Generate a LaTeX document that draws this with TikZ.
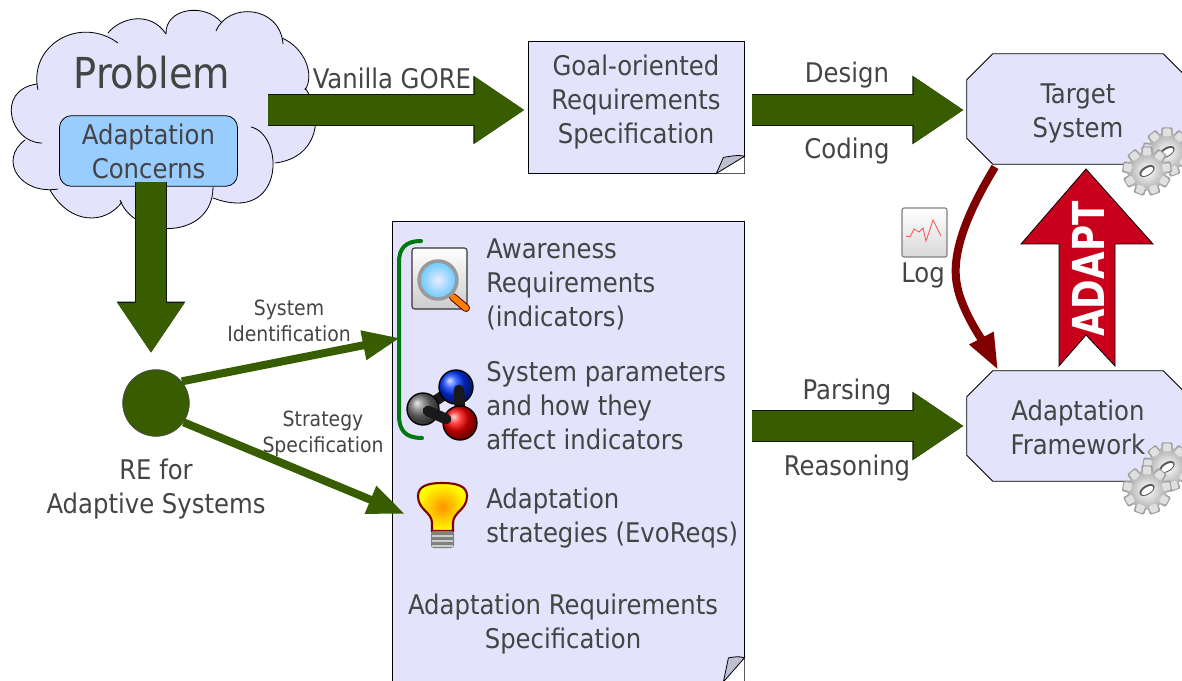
\documentclass[tikz,border=0pt]{standalone}
\usepackage{fontspec}
\setmainfont{DejaVu Sans Condensed}
\usetikzlibrary{arrows.meta, positioning, calc}
\definecolor{docfill}{HTML}{E3E3FB}
\definecolor{concernfill}{HTML}{99CCFF}
\definecolor{textgray}{HTML}{444444}
\definecolor{arrowgreen}{HTML}{385D00}
\definecolor{bracketgreen}{HTML}{007A10}
\definecolor{logred}{HTML}{800000}
\definecolor{adaptred}{HTML}{C8001C}
\definecolor{foldgray}{HTML}{BFBFD2}
\tikzset{
  label22/.style={text=textgray, font=\fontsize{20.3}{25.5}\selectfont, align=center, inner sep=0pt},
  labelleft/.style={label22, align=left, anchor=west},
  labelsmall/.style={text=textgray, font=\fontsize{15.7}{19.5}\selectfont, align=center, inner sep=0pt},
  docbox/.style={draw=black, fill=docfill, line width=0.6pt, inner sep=0pt},
  foldpart/.style={draw=black, fill=foldgray, line width=0.6pt},
  octbox/.style={minimum width=166.5pt, minimum height=82.5pt, inner sep=0pt},
  octline/.style={draw=black, fill=docfill, line width=0.6pt},
  blockarrow/.style={draw=arrowgreen, line width=22.5pt, -{Triangle[length=37.5pt,width=47.5pt]},
    preaction={draw=black!75!arrowgreen, line width=23.4pt, -{Triangle[length=38.5pt,width=48.6pt]}}},
  thinarrow/.style={draw=arrowgreen, line width=6pt, -{Triangle[length=28pt,width=21pt]}},
  cloudline/.style={draw=black, line width=0.6pt},
  gearicon/.pic={
    \foreach \a in {0,40,...,320} {
      \fill[black!38, rotate=\a, rounded corners=1pt] (-5,-22) rectangle (5,-13);
    }
    \shade[inner color=white, outer color=black!32] (0,0) circle (17.5);
    \foreach \a in {0,40,...,320} {
      \fill[black!12, rotate=\a, rounded corners=1pt] (-3.6,-21) rectangle (3.6,-14);
    }
    \fill[black!65, rotate=32] (0,0) ellipse (7.5 and 4.2);
    \fill[white, rotate=32] (0,0.5) ellipse (6 and 2.8);
  }
}
\newcommand{\cloudlobes}{
    {(38,90)}/{(28,45)}/{(80,15)}/{(118,43)},
    {(108,33)}/{(120,18)}/{(150,10)}/{(166,34)},
    {(166,34)}/{(165,8)}/{(205,2)}/{(222,23)},
    {(216,31)}/{(228,2)}/{(280,5)}/{(283,44)},
    {(282,38)}/{(305,48)}/{(315,75)}/{(305,90)},
    {(305,88)}/{(325,115)}/{(318,158)}/{(275,163)},
    {(251,127)}/{(285,135)}/{(285,225)}/{(213,198)},
    {(213,187)}/{(213,240)}/{(135,240)}/{(120,200)},
    {(122,202)}/{(105,225)}/{(70,225)}/{(50,190)},
    {(58,189)}/{(20,195)}/{(-2,160)}/{(25,140)},
    {(42,143)}/{(10,143)}/{(-5,90)}/{(37,84)}}
\newcommand{\docfold}[5]{% name, right edge offset, bottom edge offset, inner x, inner y
  \fill[white] (#1.south east) -- ++(0,-#2) -- ($(#1.south east)+(-#3,0)$) -- cycle;
  \draw[foldpart] ($(#1.south east)+(0,-#2)$) -- ($(#1.south east)+(-#3,0)$) -- ($(#1.south east)+(-#4,-#5)$) .. controls ($(#1.south east)+(-#4+6,-#5-1)$) and ($(#1.south east)+(-5,-#2-2)$) .. cycle;
}
\newcommand{\octoutline}[1]{%
  \draw[octline] ($(#1.north west)+(26,0)$) -- ($(#1.north east)+(-26,0)$) -- ($(#1.north east)+(0,26)$) -- ($(#1.south east)+(0,-26)$) -- ($(#1.south east)+(-26,0)$) -- ($(#1.south west)+(26,0)$) -- ($(#1.south west)+(0,-26)$) -- ($(#1.north west)+(0,26)$) -- cycle;
}
\begin{document}
\begin{tikzpicture}[x=0.75pt,y=-0.75pt]
\useasboundingbox (0,0) rectangle (1182,681);
% Cloud
\fill[docfill] (38,90) -- (108,33) -- (166,30) -- (222,20) -- (282,38) -- (305,90) -- (275,163) -- (213,198) -- (167,225) -- (122,204) -- (50,192) -- (25,140) -- cycle;
\foreach \pa/\pb/\pc/\pd in \cloudlobes {
  \fill[docfill, draw=docfill, line width=0.5pt] \pa .. controls \pb and \pc .. \pd;
}
\foreach \pa/\pb/\pc/\pd in \cloudlobes {
  \draw[cloudline] \pa .. controls \pb and \pc .. \pd;
}
\node[text=textgray, font=\fontsize{32}{40}\selectfont, inner sep=0pt] (problem) at (152,73) {Problem};
\node[draw=black, fill=concernfill, rounded corners=9pt, line width=0.6pt, minimum width=133.5pt, minimum height=53pt,
      label22] (concerns) at (148.5,151) {Adaptation\\Concerns};
\coordinate (vanillastart) at (268,110);
\coordinate (concernsout) at (151,182);
% Documents
\node[docbox, minimum width=162pt, minimum height=99pt] (goalspec) at (636,107) {};
\docfold{goalspec}{17}{28}{21}{16}
\node[label22] (goaltext) at (636,102.5) {Goal-oriented\\Requirements\\Specification};
\node[docbox, minimum width=264pt, minimum height=345pt] (adaptspec) at (568,451.5) {};
\docfold{adaptspec}{24}{21}{16}{24}
\node[label22] (adapttext) at (563,624.5) {Adaptation Requirements\\Specification};
% Target and framework
\node[octbox] (target) at (1078,109) {};
\octoutline{target}
\node[label22] (targettext) at (1078,113.5) {Target\\System};
\node[octbox] (framework) at (1078,426) {};
\octoutline{framework}
\node[label22] (frameworktext) at (1078,427.5) {Adaptation\\Framework};
\foreach \gx/\gy in {1167/152,1147/171,1167/467,1147/490} {
  \pic[scale=1.12] at (\gx,\gy) {gearicon};
}
% Big arrows
\draw[blockarrow] (vanillastart) -- ($(goalspec.west |- vanillastart)+(-3,0)$);
\draw[blockarrow] (752,110) -- ($(target.west |- 0,110)+(-3,0)$);
\draw[blockarrow] (752,426) -- ($(framework.west)+(-3,0)$);
\draw[blockarrow] (concernsout) -- (151,353);
\node[label22] (vanilla) at (392,78) {Vanilla GORE};
\node[label22] (design) at (847,75) {Design};
\node[label22] (coding) at (847,151) {Coding};
\node[label22] (parsing) at (847,392) {Parsing};
\node[label22] (reasoning) at (847,468) {Reasoning};
% RE node
\node[circle, draw=black!70, fill=arrowgreen, line width=0.5pt, minimum size=50pt, inner sep=0pt] (re) at (156,403) {};
\node[label22] (retext) at (156,489) {RE for\\Adaptive Systems};
\coordinate (bracketin) at (400,338);
\coordinate (bulbin) at (405,514);
\draw[thinarrow] (re.40) -- (bracketin);
\draw[thinarrow] (re.-35) -- (bulbin);
\node[labelsmall] (sysid) at (289,321) {System\\Identification};
\node[labelsmall] (stratspec) at (323,434) {Strategy\\Specification};
% Bracket
\draw[bracketgreen, line width=3pt, line cap=round] (421,241) .. controls (405,241) and (399,249) .. (399,262) -- (399,415) .. controls (399,430) and (405,438) .. (422,438);
% Magnifier icon
\draw[black!80, line width=0.8pt, rounded corners=2pt, top color=white, bottom color=black!20] (412,248) rectangle (467,309);
\draw[logred!80!black, line width=6pt, line cap=round] (453,297) -- (466,308);
\draw[orange, line width=4.4pt, line cap=round] (453,297) -- (466,308);
\shade[inner color=blue!8, outer color=blue!35!cyan!60, draw=black!40, line width=2.6pt] (438,280) circle (19);
% Molecule icon
\draw[black!90, line width=8pt] (423,409) -- (456,387);
\shade[ball color=black!55, draw=black, line width=1pt] (423,409) circle (16);
\shade[ball color=blue!80!cyan, draw=black, line width=1pt] (456,387) circle (17);
\draw[black!90, line width=8pt, line cap=round] (459,390) -- (460,412);
\shade[ball color=red, draw=black, line width=1pt] (460,423) circle (17);
\draw[black!90, line width=8pt, line cap=round] (428,411) -- (446,419);
% Bulb icon
\draw[logred, line width=1.6pt, inner color=orange!85!yellow, outer color=yellow] (432,531) -- (432,523) .. controls (432,512) and (418,510) .. (418,496) .. controls (418,486) and (428,483) .. (442,483) .. controls (457,483) and (467,486) .. (467,496) .. controls (467,510) and (453,512) .. (453,523) -- (453,531) -- cycle;
\fill[black!50, rounded corners=2pt] (431,531) rectangle (454,548);
\foreach \sy in {535,540,545} {
  \fill[black!20] (432,\sy) rectangle (453,\sy+2);
}
\node[labelleft] (aware) at (486,284.5) {Awareness\\Requirements\\(indicators)};
\node[labelleft] (params) at (486,406) {System parameters\\and how they\\affect indicators};
\node[labelleft] (strategies) at (486,518.5) {Adaptation\\strategies (EvoReqs)};
% Log
\coordinate (logstart) at (995,167);
\coordinate (logend) at (998,370);
\draw[logred, line width=6pt, -{Triangle[length=27pt,width=19pt]}] (logstart) .. controls (972,205) and (950,250) .. (957,285) .. controls (961,310) and (985,345) .. (logend);
\draw[black!50, line width=0.8pt, rounded corners=1.5pt, top color=white, bottom color=black!15] (902,208) rectangle (947,257);
\draw[red!70, line width=0.6pt] (906,236) -- (910,237) -- (914,229) -- (919,232) -- (923,228) -- (926,241) -- (933,220) -- (941,236);
\node[label22] (logtext) at (923,275.5) {Log};
% Adapt arrow
\draw[draw=black, fill=adaptred, line width=0.6pt] (1086,169) -- (1153,244) -- (1115,244) -- (1115,366) -- (1086,335) -- (1059,366) -- (1059,244) -- (1021,244) -- cycle;
\node[text=white, font=\bfseries\fontsize{33}{40}\selectfont, rotate=90, inner sep=0pt] (adapt) at (1088,269) {\scalebox{0.9}[1]{ADAPT}};
\end{tikzpicture}
\end{document}
